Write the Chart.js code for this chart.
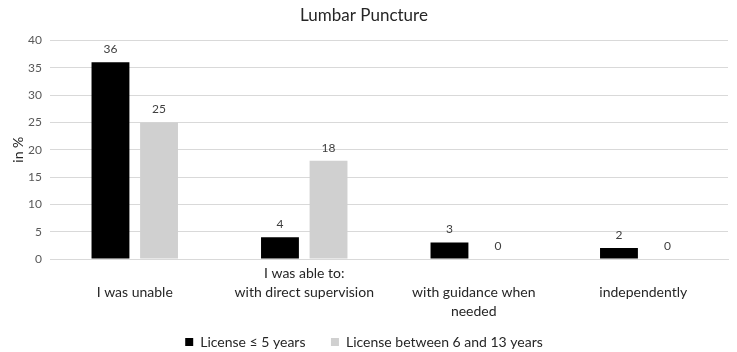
<!DOCTYPE html>
<html>
<head>
<meta charset="utf-8">
<script src="https://cdn.jsdelivr.net/npm/chart.js@4"></script>
<style>
  html, body { margin: 0; padding: 0; background: #fff; }
  #wrap { width: 737px; height: 352px; }
</style>
</head>
<body>
<div id="wrap"><canvas id="lp"></canvas></div>
<script>
// categories (multi-line, as in the original axis)
const categories = [
  ["", "I was unable"],
  ["I was able to:", "with direct supervision"],
  ["", "with guidance when", "needed"],
  ["", "independently"]
];
const seriesNames = ["License \u2264 5 years", "License between 6 and 13 years"];
const licenseUpTo5 = [36, 4, 3, 2];
const license6to13 = [25, 18, 0, 0];
const yTicks = { min: 0, max: 40, step: 5 };

const fontFam = "Lato, 'Liberation Sans', sans-serif";

// values written above bars
const barValues = {
  id: "barValues",
  afterDatasetsDraw(chart) {
    const ctx = chart.ctx;
    ctx.save();
    ctx.font = "12px " + fontFam;
    ctx.fillStyle = "#404040";
    ctx.textAlign = "center";
    ctx.textBaseline = "bottom";
    chart.data.datasets.forEach((ds, i) => {
      chart.getDatasetMeta(i).data.forEach((bar, j) => {
        ctx.fillText(ds.data[j], bar.x, bar.y - 7);
      });
    });
    ctx.restore();
  }
};

const ctxLp = document.getElementById("lp");
new Chart(ctxLp, {
  type: "bar",
  data: {
    labels: categories,
    datasets: [
      {
        label: seriesNames[0],
        data: licenseUpTo5,
        backgroundColor: "#000000",
        categoryPercentage: 0.573,
        barPercentage: 0.78,
      },
      {
        label: seriesNames[1],
        data: license6to13,
        backgroundColor: "#d0d0d0",
        categoryPercentage: 0.573,
        barPercentage: 0.78,
      },
    ],
  },
  options: {
    responsive: true,
    maintainAspectRatio: false,
    animation: false,
    layout: { padding: { left: 0, right: 9, top: 0, bottom: -7 } },
    plugins: {
      title: {
        display: true,
        text: "Lumbar Puncture",
        color: "#262626",
        font: { family: fontFam, size: 17, weight: "normal" },
        padding: { top: 5, bottom: 15 },
      },
      legend: {
        position: "bottom",
        labels: {
          color: "#262626",
          font: { family: fontFam, size: 14 },
          boxWidth: 8,
          boxHeight: 8,
          padding: 4,
          generateLabels: (chart) => {
            const items = Chart.defaults.plugins.legend.labels.generateLabels(chart);
            items[0].text = items[0].text + "      ";
            return items;
          },
        },
      },
      tooltip: { enabled: false },
    },
    scales: {
      x: {
        afterFit: (s) => { s.height = 72; },
        grid: { display: false, drawTicks: false, tickLength: 0 },
        border: { color: "#d9d9d9" },
        ticks: {
          color: "#262626",
          font: { family: fontFam, size: 14, lineHeight: 1.35 },
          maxRotation: 0,
          autoSkip: false,
          padding: 5,
        },
      },
      y: {
        min: yTicks.min,
        max: yTicks.max,
        afterFit: (s) => { s.width = 50; },
        ticks: {
          stepSize: yTicks.step,
          color: "#595959",
          font: { family: fontFam, size: 12 },
          padding: 8,
        },
        grid: { color: "#d9d9d9", drawTicks: false },
        border: { display: false },
        title: {
          display: true,
          text: "in %",
          color: "#262626",
          font: { family: fontFam, size: 14 },
          padding: { top: 10, bottom: 0 },
        },
      },
    },
  },
  plugins: [barValues],
});
</script>
</body>
</html>
